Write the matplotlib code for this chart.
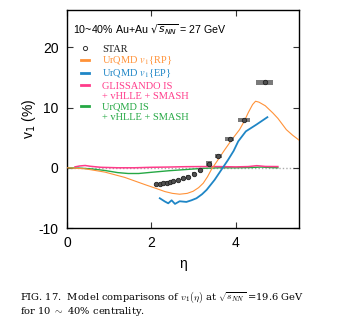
import matplotlib
matplotlib.use("Agg")
import matplotlib.pyplot as plt
from matplotlib.lines import Line2D
from matplotlib.font_manager import FontProperties
import numpy as np

plt.rcParams['axes.unicode_minus'] = False

# STAR measurement
star_eta = [2.12, 2.20, 2.28, 2.36, 2.44, 2.52, 2.63, 2.74, 2.86, 3.00,
            3.15, 3.36, 3.59, 3.86, 4.20, 4.69]
star_v1 = [-2.7, -2.65, -2.55, -2.45, -2.35, -2.25, -2.05, -1.75, -1.45, -1.0,
           -0.4, 0.7, 1.9, 4.8, 7.9, 14.2]
star_sys_eta = [0.03, 0.03, 0.03, 0.03, 0.03, 0.03, 0.03, 0.03, 0.03, 0.04,
                0.05, 0.07, 0.09, 0.11, 0.14, 0.2]
star_sys_v1 = [0.2, 0.2, 0.2, 0.2, 0.2, 0.2, 0.2, 0.2, 0.2, 0.25,
               0.3, 0.35, 0.35, 0.35, 0.35, 0.4]

# UrQMD v1{RP}
rp_eta = [0.0, 0.43, 0.9, 1.37, 1.85, 2.1, 2.32, 2.5, 2.67, 2.85, 2.99, 3.12,
          3.23, 3.33, 3.42, 3.58, 3.74, 3.9, 4.09, 4.2, 4.3, 4.4, 4.47, 4.55,
          4.7, 4.88, 5.0, 5.2, 5.35, 5.5]
rp_v1 = [0.0, -0.17, -0.72, -1.6, -2.8, -3.4, -3.95, -4.25, -4.39, -4.25, -3.9,
         -3.3, -2.56, -1.5, -0.33, 1.33, 3.0, 4.6, 6.33, 7.7, 9.2, 10.5, 11.05,
         10.9, 10.3, 9.1, 8.2, 6.33, 5.4, 4.6]

# UrQMD v1{EP}
ep_eta = [2.2, 2.32, 2.40, 2.48, 2.56, 2.67, 2.83, 2.95, 3.07, 3.2, 3.31, 3.5,
          3.66, 3.82, 3.95, 4.06, 4.24, 4.49, 4.75]
ep_v1 = [-5.06, -5.6, -5.9, -5.4, -6.0, -5.56, -5.67, -5.4, -5.06, -4.4, -3.67,
         -2.0, -0.33, 1.33, 2.8, 4.4, 6.05, 7.17, 8.4]

# GLISSANDO IS + vHLLE + SMASH
gl_eta = [0.19, 0.3, 0.43, 0.55, 0.8, 1.2, 1.6, 2.0, 2.4, 2.8, 3.2, 3.6, 4.0,
          4.3, 4.5, 4.7, 5.0]
gl_v1 = [0.15, 0.3, 0.38, 0.25, 0.08, 0.0, 0.0, 0.08, 0.12, 0.18, 0.2, 0.2,
         0.15, 0.2, 0.35, 0.22, 0.2]

# UrQMD IS + vHLLE + SMASH
uis_eta = [0.0, 0.3, 0.6, 0.9, 1.2, 1.45, 1.7, 2.0, 2.4, 2.8, 3.2, 3.6, 4.0,
           4.4, 4.6, 4.8, 5.0]
uis_v1 = [0.0, -0.05, -0.2, -0.45, -0.8, -0.95, -0.95, -0.75, -0.5, -0.3, -0.1,
          0.0, 0.0, 0.05, 0.12, 0.05, 0.0]

x_ticks = [0, 2, 4]
y_ticks = [-10, 0, 10, 20]

c_rp = '#ff9238'
c_ep = '#1f86c6'
c_gl = '#ff3b8a'
c_uis = '#25a844'

W, H = 338, 336
fig = plt.figure(figsize=(W / 100, H / 100), dpi=100)
ax = fig.add_axes([67 / W, 1 - 228 / H, (299 - 67) / W, (228 - 10) / H])

sans = 'Liberation Sans'
serif = 'Liberation Serif'

ax.axhline(0, color='#aaaaaa', lw=1.0, ls=(0, (1, 1.5)), zorder=1)

ax.plot(uis_eta, uis_v1, color=c_uis, lw=1.0, zorder=2)
ax.plot(gl_eta, gl_v1, color=c_gl, lw=1.1, zorder=2)
ax.plot(rp_eta, rp_v1, color=c_rp, lw=0.8, zorder=3)
ax.plot(ep_eta, ep_v1, color=c_ep, lw=1.3, zorder=3)

ax.bar(star_eta, 2 * np.array(star_sys_v1),
       bottom=np.array(star_v1) - np.array(star_sys_v1),
       width=2 * np.array(star_sys_eta), color='#7a7a7a', lw=0, zorder=4)
ax.plot(star_eta, star_v1, 'o', ms=3.2, mfc='#505050', mec='#222222',
        mew=0.6, zorder=5)

ax.set_xlim(0, 5.5)
ax.set_ylim(-10, 26.2)
ax.set_xticks(x_ticks)
ax.set_yticks(y_ticks)
ax.tick_params(direction='in', top=True, right=True, length=4, width=0.8,
               labelsize=10, pad=6, colors='#333333', labelcolor='black')
for lab in ax.get_xticklabels() + ax.get_yticklabels():
    lab.set_fontfamily(sans)
for sp in ax.spines.values():
    sp.set_linewidth(1.0)

ax.set_xlabel('η', fontsize=10, family=sans)
ax.xaxis.set_label_coords(0.5, -0.135)
ax.set_ylabel('v$_1$ (%)', fontsize=10, family=sans)
ax.yaxis.set_label_coords(-0.125, 0.5)

ax.text(0.027, 0.908, r'10~40% Au+Au $\sqrt{s_{NN}}$ = 27 GeV',
        transform=ax.transAxes, fontsize=7.7, family=sans, va='center',
        ha='left')

handles = [
    Line2D([], [], ls='none', marker='o', ms=3.0, mfc='white', mec='#333333', mew=0.7),
    Line2D([], [], color=c_rp, lw=2),
    Line2D([], [], color=c_ep, lw=2),
    Line2D([], [], color=c_gl, lw=2),
    Line2D([], [], ls='none'),
    Line2D([], [], color=c_uis, lw=2),
    Line2D([], [], ls='none'),
]
labels = ['STAR', r'UrQMD $v_1${RP}', r'UrQMD $v_1${EP}', 'GLISSANDO IS',
          '+ vHLLE + SMASH', 'UrQMD IS', '+ vHLLE + SMASH']
colors = ['#222222', c_rp, c_ep, c_gl, c_gl, c_uis, c_uis]
leg = ax.legend(handles, labels, loc='upper left',
                bbox_to_anchor=(0.06, 0.842), borderaxespad=0, borderpad=0,
                frameon=False, handlelength=0.75, handletextpad=1.3,
                labelspacing=0.1,
                prop=FontProperties(family=serif, size=7.5, math_fontfamily='stix'))
for t, c in zip(leg.get_texts(), colors):
    t.set_color(c)

fig.text(20 / W, 1 - 297 / H,
         r'FIG. 17.  Model comparisons of $v_1(\eta)$ at $\sqrt{s_{NN}}$ =19.6 GeV',
         fontsize=7.1, family='DejaVu Serif', math_fontfamily='cm', va='center')
fig.text(20 / W, 1 - 311 / H,
         r'for 10 $\sim$ 40% centrality.',
         fontsize=7.1, family='DejaVu Serif', math_fontfamily='cm', va='center')

fig.savefig('out.png', dpi=100)
